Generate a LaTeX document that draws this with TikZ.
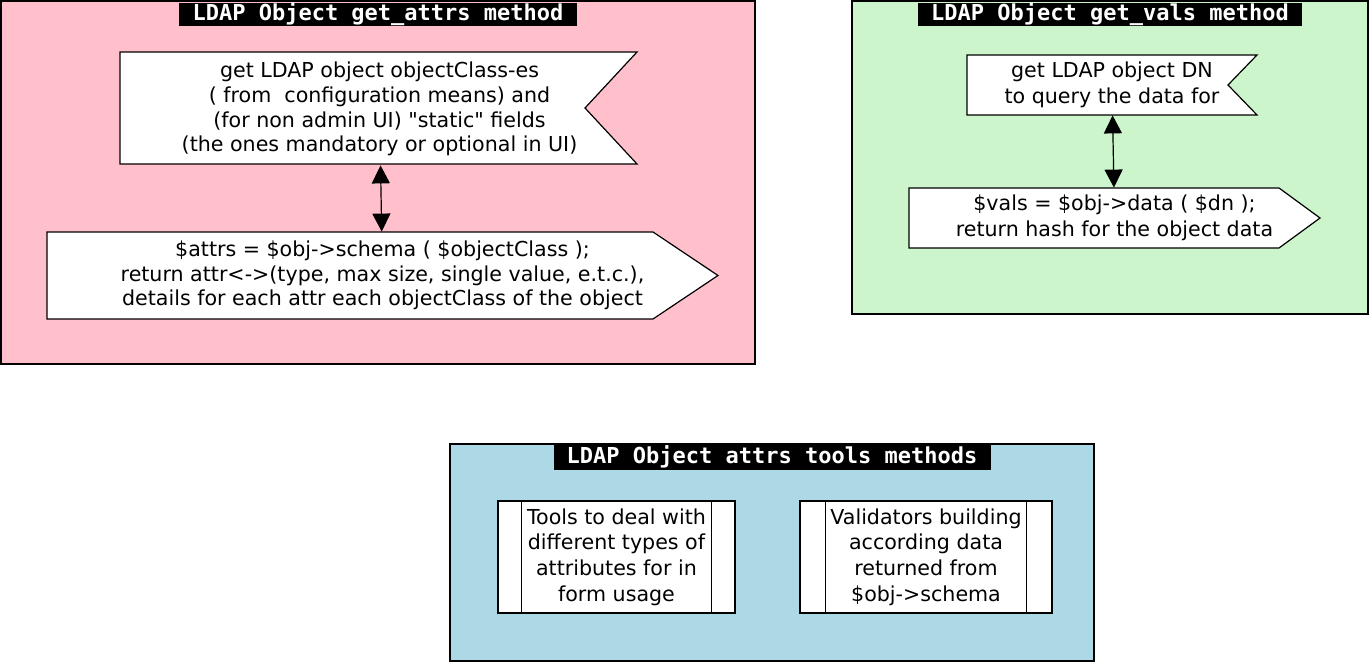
\documentclass[tikz,border=0pt]{standalone}
\usepackage{fontspec}
\setmainfont{DejaVu Sans}[Ligatures=TeXOff]
\setmonofont{DejaVu Sans Mono}
\usepackage{xcolor}
\usepackage{tikz}
\usetikzlibrary{positioning, arrows.meta}
\definecolor{attrspink}{RGB}{255,192,203}
\definecolor{valsgreen}{RGB}{204,245,204}
\definecolor{toolsblue}{RGB}{173,216,230}

\begin{document}
\begin{tikzpicture}[
    x=0.5pt, y=-0.5pt,
    panel/.style={
        draw,
        line width=0.6pt,
        inner sep=0pt
    },
    titlebar/.style={
        fill=black,
        text=white,
        inner sep=0pt,
        minimum height=11.5pt,
        font=\ttfamily\bfseries\fontsize{11}{11}\selectfont
    },
    shapeline/.style={
        draw,
        fill=white,
        line width=0.6pt
    },
    boxtext/.style={
        align=center,
        inner sep=0pt,
        font=\fontsize{10.3}{12.4}\selectfont
    },
    procbox/.style={
        draw,
        fill=white,
        line width=0.6pt,
        align=center,
        inner sep=0pt,
        minimum height=56pt,
        font=\fontsize{10.3}{12.8}\selectfont
    },
    arrow/.style={
        {Triangle[length=9pt,width=9pt]}-{Triangle[length=9pt,width=9pt]},
        line width=0.6pt
    }
]
\useasboundingbox (0,0) rectangle (1370,662);

% Panels
\node (p1) at (378,182.5) [panel, fill=attrspink, minimum width=377pt, minimum height=181.5pt] {};
\node (p2) at (1110,157.5) [panel, fill=valsgreen, minimum width=258pt, minimum height=156.5pt] {};
\node (p3) at (772,552.5) [panel, fill=toolsblue, minimum width=322pt, minimum height=108.5pt] {};

% Panel titles
\node (t1) [titlebar, minimum width=199pt, below=1pt of p1.north] {LDAP Object get\_attrs method};
\node (t2) [titlebar, minimum width=192pt, below=1pt of p2.north] {LDAP Object get\_vals method};
\node (t3) [titlebar, minimum width=218.5pt, minimum height=13pt, below=0pt of p3.north] {LDAP Object attrs tools methods};

% Flag outlines (get_attrs)
\draw [shapeline] (120,52) -- (637,52) -- (585,108) -- (637,164) -- (120,164) -- cycle;
\draw [shapeline] (47,232) -- (653,232) -- (718,275.5) -- (653,319) -- (47,319) -- cycle;

% Flag outlines (get_vals)
\draw [shapeline] (967,55) -- (1257,55) -- (1228,85) -- (1257,115) -- (967,115) -- cycle;
\draw [shapeline] (909,188) -- (1279,188) -- (1320,218) -- (1279,248) -- (909,248) -- cycle;

% get_attrs texts
\node (n1) at (379.5,109) [boxtext, minimum height=56pt] {get LDAP object objectClass-es \\ ( from~ configuration means) and \\ (for non admin UI) "static" fields \\ (the ones mandatory or optional in UI)};
\node (n2) at (382.5,275.5) [boxtext, minimum height=43.5pt] {\$attrs = \$obj->schema ( \$objectClass ); \\ return attr<->(type, max size, single value, e.t.c.), \\ details for each attr each objectClass of the object};

% get_vals texts
\node (n3) at (1112,85) [boxtext, minimum height=30pt, font=\fontsize{10.3}{13}\selectfont] {get LDAP object DN \\ to query the data for};
\node (n4) at (1114.5,218) [boxtext, minimum height=30pt, font=\fontsize{10.3}{13}\selectfont] {\$vals = \$obj->data ( \$dn ); \\ return hash for the object data};

% Tools boxes
\node (n5) at (616.5,557) [procbox, minimum width=118.5pt] {Tools to deal with \\ different types of \\ attributes for in \\ form usage};
\node (n6) at (926,557) [procbox, minimum width=126pt] {Validators building \\ according data \\ returned from \\ \$obj->schema};

% Side bars of tools boxes
\draw [line width=0.6pt] ([xshift=12pt]n5.north west) -- ([xshift=12pt]n5.south west);
\draw [line width=0.6pt] ([xshift=-12pt]n5.north east) -- ([xshift=-12pt]n5.south east);
\draw [line width=0.6pt] ([xshift=13pt]n6.north west) -- ([xshift=13pt]n6.south west);
\draw [line width=0.6pt] ([xshift=-13pt]n6.north east) -- ([xshift=-13pt]n6.south east);

% Arrows
\draw [arrow] (n1) -- (n2);
\draw [arrow] (n3) -- (n4);

\end{tikzpicture}
\end{document}
